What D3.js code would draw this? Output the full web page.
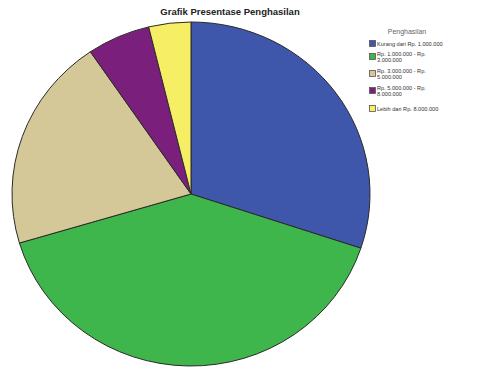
<!DOCTYPE html>
<html>
<head>
<meta charset="utf-8">
<script src="https://cdn.jsdelivr.net/npm/d3@7"></script>
<style>
  html, body { margin: 0; padding: 0; background: #fff; }
  svg { display: block; font-family: "Liberation Sans", Arial, sans-serif; }
</style>
</head>
<body>
<svg id="chart" width="482" height="368"></svg>
<script>
// Income groups and their share (percent) of respondents
const categories = [
  "Kurang dari Rp. 1.000.000",
  "Rp. 1.000.000 - Rp. 3.000.000",
  "Rp. 3.000.000 - Rp. 5.000.000",
  "Rp. 5.000.000 - Rp. 8.000.000",
  "Lebih dari Rp. 8.000.000"
];
const legendLines = [
  ["Kurang dari Rp. 1.000.000"],
  ["Rp. 1.000.000 - Rp.", "3.000.000"],
  ["Rp. 3.000.000 - Rp.", "5.000.000"],
  ["Rp. 5.000.000 - Rp.", "8.000.000"],
  ["Lebih dari Rp. 8.000.000"]
];
const values = [30.1, 40.3, 20.1, 5.7, 3.8];
const colors = ["#3f57aa", "#3eb64b", "#d5c898", "#7a1f7c", "#f6ef66"];

const svg = d3.select("#chart");

svg.append("text")
  .attr("x", 230).attr("y", 15)
  .attr("text-anchor", "middle")
  .attr("font-size", 9.5).attr("font-weight", "bold")
  .attr("fill", "#222")
  .text("Grafik Presentase Penghasilan");

const cx = 191, cy = 194, ry = 172, rx = 179;
const pie = d3.pie().sort(null).value(d => d);
const arc = d3.arc().innerRadius(0).outerRadius(ry);

const g = svg.append("g")
  .attr("transform", `translate(${cx},${cy}) scale(${rx / ry},1)`);

g.selectAll("path")
  .data(pie(values))
  .join("path")
  .attr("d", arc)
  .attr("fill", (d, i) => colors[i])
  .attr("stroke", "#2a2a2a")
  .attr("stroke-width", 1)
  .attr("vector-effect", "non-scaling-stroke");

// Legend
const lg = svg.append("g").attr("transform", "translate(369,0)");
lg.append("text")
  .attr("x", 38).attr("y", 34)
  .attr("text-anchor", "middle")
  .attr("font-size", 7).attr("fill", "#666")
  .text("Penghasilan");

const itemY = [44, 57, 74, 91, 109];
const item = lg.selectAll("g.item")
  .data(categories)
  .join("g")
  .attr("class", "item")
  .attr("transform", (d, i) => `translate(0,${itemY[i]})`);

item.append("rect")
  .attr("x", 0.5).attr("y", -3.5)
  .attr("width", 6).attr("height", 6)
  .attr("fill", (d, i) => colors[i])
  .attr("stroke", "#555").attr("stroke-width", 0.8);

item.each(function (d, i) {
  const t = d3.select(this).append("text")
    .attr("font-size", 5.6).attr("fill", "#333");
  legendLines[i].forEach((line, k) => {
    t.append("tspan")
      .attr("x", 8)
      .attr("y", k === 0 ? (legendLines[i].length > 1 ? -1 : 2) : 5)
      .text(line);
  });
});
</script>
</body>
</html>
